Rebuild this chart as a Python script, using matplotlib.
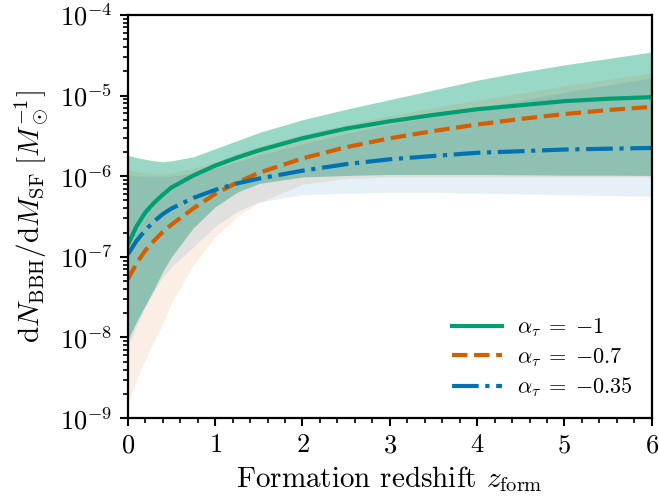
import matplotlib
matplotlib.use("Agg")
import matplotlib.pyplot as plt
from matplotlib.ticker import MultipleLocator, LogLocator
import numpy as np

z = [0, 0.1, 0.2, 0.3, 0.4, 0.5, 0.75, 1.0, 1.25, 1.5, 2.0, 2.5, 3.0, 3.5, 4.0, 4.5, 5.0, 5.5, 6.0]

labels = [r'$\alpha_\tau\;=\;{-1}$', r'$\alpha_\tau\;=\;{-0.7}$', r'$\alpha_\tau\;=\;{-0.35}$']
colors = ['#009E73', '#D55E00', '#0072B2']
styles = ['-', '--', '-.']
band_alpha = [0.4, 0.1, 0.1]

med_m1 = [1.41e-7, 2.40e-7, 3.55e-7, 4.68e-7, 5.89e-7, 7.24e-7, 1.02e-6, 1.35e-6, 1.70e-6, 2.09e-6,
          2.95e-6, 3.89e-6, 4.79e-6, 5.75e-6, 6.76e-6, 7.59e-6, 8.51e-6, 9.12e-6, 9.55e-6]
up_m1 = [1.82e-6, 1.70e-6, 1.62e-6, 1.55e-6, 1.51e-6, 1.55e-6, 1.74e-6, 2.19e-6, 2.75e-6, 3.47e-6,
         5.01e-6, 6.76e-6, 8.91e-6, 1.17e-5, 1.55e-5, 1.95e-5, 2.40e-5, 2.88e-5, 3.47e-5]
lo_m1 = [9.33e-9, 1.58e-8, 2.51e-8, 3.98e-8, 6.61e-8, 1.00e-7, 2.29e-7, 4.17e-7, 6.31e-7, 8.13e-7,
         9.77e-7, 1.02e-6, 1.05e-6, 1.05e-6, 1.05e-6, 1.04e-6, 1.03e-6, 1.03e-6, 1.02e-6]

med_m07 = [5.25e-8, 8.32e-8, 1.20e-7, 1.58e-7, 2.04e-7, 2.51e-7, 3.98e-7, 6.03e-7, 8.32e-7, 1.10e-6,
           1.66e-6, 2.29e-6, 2.95e-6, 3.63e-6, 4.37e-6, 5.13e-6, 5.89e-6, 6.61e-6, 7.24e-6]
up_m07 = [1.20e-6, 1.15e-6, 1.10e-6, 1.07e-6, 1.07e-6, 1.10e-6, 1.26e-6, 1.51e-6, 1.91e-6, 2.34e-6,
          3.31e-6, 4.37e-6, 5.62e-6, 7.08e-6, 8.71e-6, 1.07e-5, 1.32e-5, 1.58e-5, 1.91e-5]
lo_m07 = [1.58e-9, 3.02e-9, 5.37e-9, 8.91e-9, 1.51e-8, 2.69e-8, 7.94e-8, 1.78e-7, 3.16e-7, 4.68e-7,
          7.94e-7, 9.33e-7, 9.77e-7, 9.77e-7, 9.77e-7, 9.77e-7, 9.77e-7, 9.77e-7, 9.77e-7]

med_m035 = [1.07e-7, 1.58e-7, 2.14e-7, 2.75e-7, 3.39e-7, 3.98e-7, 5.37e-7, 6.76e-7, 8.13e-7, 9.33e-7,
            1.17e-6, 1.41e-6, 1.62e-6, 1.78e-6, 1.95e-6, 2.04e-6, 2.14e-6, 2.19e-6, 2.24e-6]
up_m035 = [1.05e-6, 1.00e-6, 1.00e-6, 1.00e-6, 1.00e-6, 1.00e-6, 1.10e-6, 1.26e-6, 1.51e-6, 1.82e-6,
           2.51e-6, 3.39e-6, 4.37e-6, 5.50e-6, 6.92e-6, 8.71e-6, 1.10e-5, 1.35e-5, 1.66e-5]
lo_m035 = [7.59e-9, 1.41e-8, 2.40e-8, 3.80e-8, 5.62e-8, 7.59e-8, 1.32e-7, 2.40e-7, 3.63e-7, 4.79e-7,
           5.89e-7, 6.17e-7, 6.31e-7, 6.31e-7, 6.17e-7, 6.03e-7, 5.89e-7, 5.75e-7, 5.62e-7]

medians = [med_m1, med_m07, med_m035]
uppers = [up_m1, up_m07, up_m035]
lowers = [lo_m1, lo_m07, lo_m035]

plt.rcParams['font.family'] = 'serif'
plt.rcParams['font.serif'] = ['cmr10']
plt.rcParams['mathtext.fontset'] = 'cm'
plt.rcParams['axes.formatter.use_mathtext'] = True
plt.rcParams['axes.unicode_minus'] = False

fig = plt.figure(figsize=(6.59, 4.96), dpi=100)
ax = fig.add_axes([0.194, 0.157, 0.795, 0.813])

for i in range(3):
    ax.fill_between(z, lowers[i], uppers[i], color=colors[i], alpha=band_alpha[i], linewidth=0)
for i in range(3):
    ax.plot(z, medians[i], color=colors[i], ls=styles[i], lw=3, label=labels[i])

ax.set_yscale('log')
ax.set_xlim(0, 6)
ax.set_ylim(1e-9, 1e-4)
ax.xaxis.set_major_locator(MultipleLocator(1))
ax.xaxis.set_minor_locator(MultipleLocator(0.2))
ax.yaxis.set_major_locator(LogLocator(base=10, numticks=10))
ax.yaxis.set_minor_locator(LogLocator(base=10, subs=np.arange(2, 10), numticks=10))

for s in ax.spines.values():
    s.set_linewidth(1.6)
ax.tick_params(which='major', direction='out', length=6, width=1.5, labelsize=19, top=False, right=False, pad=5)
ax.tick_params(which='minor', direction='out', length=3.5, width=1.2, top=False, right=False)

ax.set_xlabel(r'Formation redshift $z_{\rm form}$', fontsize=21, labelpad=5)
ax.set_ylabel(r'$\mathrm{d}N_{\rm BBH}/\mathrm{d}M_{\rm SF}\;[M_\odot^{-1}]$', fontsize=21, labelpad=6)

ax.legend(loc='lower right', frameon=False, fontsize=16, handlelength=2.25, handletextpad=0.68,
          labelspacing=0.3, borderaxespad=0.45)

fig.savefig('out.png', dpi=100)
